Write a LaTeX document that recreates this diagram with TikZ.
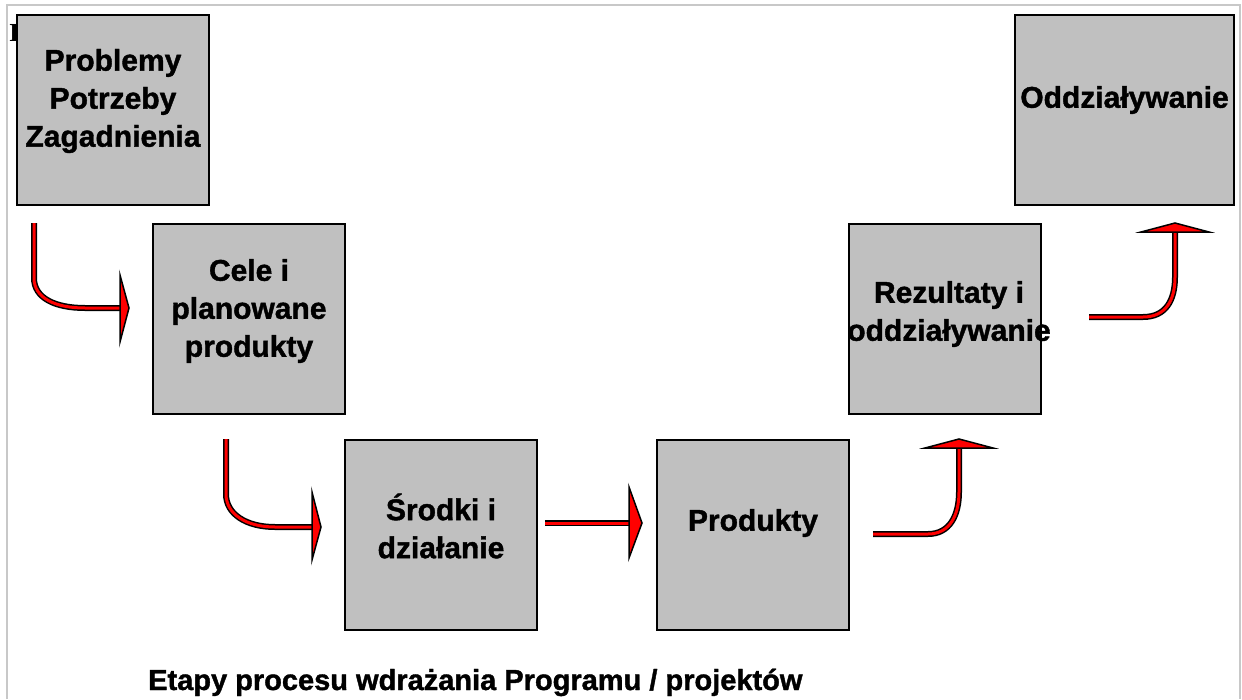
\documentclass[tikz,border=0pt]{standalone}
\usepackage{fontspec}
\setmainfont{Liberation Sans}
\newfontfamily\serifb{Liberation Serif}
\newfontfamily\heavy[FakeBold=1.3]{Liberation Sans Bold}
\begin{document}
\begin{tikzpicture}[x=1pt,y=-1pt,
  box/.style={draw=black,line width=2pt,fill=boxgrey,minimum width=192pt,minimum height=190pt,inner sep=0pt,anchor=north west},
  boxtext/.style={align=center,font=\heavy\fontsize{30}{38}\selectfont,inner sep=0pt},
  shaftout/.style={line width=6pt,black,line cap=butt},
  shaftin/.style={line width=3pt,arrowred,line cap=butt},
  head/.style={draw=black,line width=1.5pt,fill=arrowred,line join=miter}]
\definecolor{boxgrey}{RGB}{192,192,192}
\definecolor{arrowred}{RGB}{255,0,0}
\definecolor{framegrey}{RGB}{200,200,200}
\useasboundingbox (0,0) rectangle (1242,699);
% frame
\draw[framegrey,line width=2pt] (7,699) -- (7,5) -- (1240,5) -- (1240,699);
% clipped fragment behind first box
\node[anchor=west,inner sep=0pt,font=\serifb\fontsize{26}{26}\selectfont\bfseries] (frag) at (9,33) {I};
% boxes
\node[box] (b1) at (16,14) {};
\node[box] (b2) at (152,223) {};
\node[box] (b3) at (344,439) {};
\node[box] (b4) at (656,439) {};
\node[box] (b5) at (848,223) {};
\node[box,minimum width=219pt] (b6) at (1014,14) {};
\node[boxtext] (t1) at ([yshift=9pt]b1.center) {Problemy\\Potrzeby\\Zagadnienia};
\node[boxtext] (t2) at ([yshift=8pt]b2.center) {Cele i\\planowane\\produkty};
\node[boxtext] (t3) at ([yshift=9pt]b3.center) {Środki i\\działanie};
\node[boxtext] (t4) at ([yshift=12pt]b4.center) {Produkty};
\node[boxtext] (t5) at ([yshift=5pt,xshift=4pt]b5.center) {Rezultaty i\\oddziaływanie};
\node[boxtext] (t6) at ([yshift=10pt]b6.center) {Oddziaływanie};
% arrow 1
\coordinate (a1s) at (34,223);
\coordinate (a1e) at (121,308);
\foreach \s in {shaftout,shaftin}
  \draw[\s] (a1s) -- (34,278) .. controls (34,298) and (55,308) .. (85,308) -- (a1e);
\draw[head] (120,275) -- (129,308) -- (120,342) -- cycle;
% arrow 2
\coordinate (a2s) at (226,439);
\coordinate (a2e) at (313,527);
\foreach \s in {shaftout,shaftin}
  \draw[\s] (a2s) -- (226,494) .. controls (226,514) and (246,527) .. (275,527) -- (a2e);
\draw[head] (312,492) -- (321,527) -- (312,560) -- cycle;
% arrow 3
\coordinate (a3s) at (545,523);
\coordinate (a3e) at (630,523);
\foreach \s in {shaftout,shaftin}
  \draw[\s] (a3s) -- (a3e);
\draw[head] (629,487) -- (642,523) -- (629,558) -- cycle;
% arrow 4
\coordinate (a4s) at (873,534);
\coordinate (a4e) at (959,447);
\foreach \s in {shaftout,shaftin}
  \draw[\s] (a4s) -- (928,534) .. controls (950,534) and (959,515) .. (959,492) -- (a4e);
\draw[head] (925,448) -- (959,439) -- (993,448) -- cycle;
% arrow 5
\coordinate (a5s) at (1089,317);
\coordinate (a5e) at (1175,231);
\foreach \s in {shaftout,shaftin}
  \draw[\s] (a5s) -- (1143,317) .. controls (1166,317) and (1175,300) .. (1175,277) -- (a5e);
\draw[head] (1141,232) -- (1175,223) -- (1209,232) -- cycle;
% caption
\node[anchor=base west,inner sep=0pt,font=\heavy\fontsize{29}{30}\selectfont] (cap) at (148,690) {Etapy procesu wdrażania Programu / projektów};
\end{tikzpicture}
\end{document}
